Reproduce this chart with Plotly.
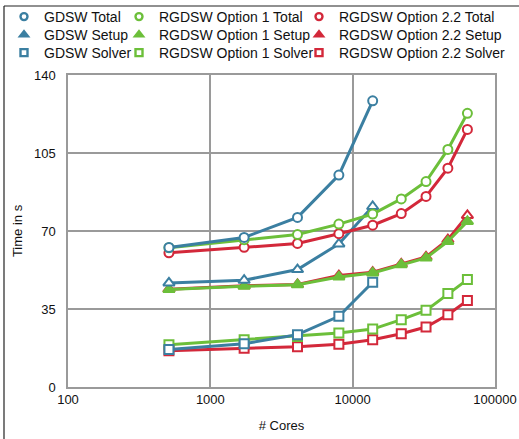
import plotly.graph_objects as go

cores_gdsw = [512, 1728, 4096, 8000, 13824]
cores_rgdsw = [512, 1728, 4096, 8000, 13824, 21952, 32768, 46656, 64000]

gdsw_total = [62.6, 67.1, 76.1, 95.1, 128.4]
gdsw_setup = [46.7, 47.9, 52.7, 64.2, 81.0]
gdsw_solver = [16.8, 19.4, 23.5, 31.7, 47.0]

opt1_total = [62.5, 66.1, 68.4, 73.1, 77.6, 84.4, 92.2, 106.6, 122.8]
opt1_setup = [43.7, 45.2, 45.9, 49.4, 51.2, 54.9, 57.9, 65.3, 74.3]
opt1_solver = [19.0, 21.2, 22.7, 24.2, 26.0, 30.2, 34.4, 41.9, 48.2]

opt22_total = [60.2, 62.7, 64.4, 68.8, 72.6, 77.8, 85.5, 98.2, 115.6]
opt22_setup = [43.9, 45.4, 46.0, 50.0, 51.5, 55.2, 58.4, 66.1, 77.0]
opt22_solver = [16.3, 17.4, 18.1, 19.2, 21.2, 23.9, 26.9, 32.4, 38.8]

BLUE = "#3b7fa1"
GREEN = "#6cbf3a"
RED = "#d3283a"

FONT = "Liberation Sans, Arial, sans-serif"

series = [
    ("GDSW Total", cores_gdsw, gdsw_total, BLUE, "circle", "white"),
    ("GDSW Setup", cores_gdsw, gdsw_setup, BLUE, "triangle-up", "white"),
    ("GDSW Solver", cores_gdsw, gdsw_solver, BLUE, "square", "white"),
    ("RGDSW Option 1 Total", cores_rgdsw, opt1_total, GREEN, "circle", "white"),
    ("RGDSW Option 1 Setup", cores_rgdsw, opt1_setup, GREEN, "triangle-up", GREEN),
    ("RGDSW Option 1 Solver", cores_rgdsw, opt1_solver, GREEN, "square", "white"),
    ("RGDSW Option 2.2 Total", cores_rgdsw, opt22_total, RED, "circle", "white"),
    ("RGDSW Option 2.2 Setup", cores_rgdsw, opt22_setup, RED, "triangle-up", "white"),
    ("RGDSW Option 2.2 Solver", cores_rgdsw, opt22_solver, RED, "square", "white"),
]

W, H = 519, 439
L, R, T, B = 68, 24, 75, 52
pw, ph = W - L - R, H - T - B


def px(xp):
    return (xp - L) / pw


def py(yp):
    return 1 - (yp - T) / ph


fig = go.Figure()

order = [8, 5, 2, 7, 4, 1, 6, 3, 0]
for idx in order:
    name, x, y, col, sym, fill = series[idx]
    fig.add_trace(go.Scatter(
        x=x, y=y, mode="lines+markers", name=name, showlegend=False,
        line=dict(color=col, width=3),
        marker=dict(symbol=sym, size=9 if sym != "triangle-up" else 10,
                    color=fill, line=dict(color=col, width=2)),
    ))

col_x = [4, 119, 299]
row_y = [17, 35, 53]
legend_layout = {}
for i, (name, x, y, col, sym, fill) in enumerate(series):
    key = "legend" if i == 0 else f"legend{i + 1}"
    c, r = divmod(i, 3)
    legend_layout[key] = dict(
        x=px(col_x[c]), y=py(row_y[r]), xanchor="left", yanchor="middle",
        bgcolor="rgba(0,0,0,0)", font=dict(family=FONT, size=14, color="#111"),
        itemsizing="trace", itemwidth=30,
    )
    fig.add_trace(go.Scatter(
        x=[None], y=[None], mode="markers", name=name, legend=key,
        marker=dict(symbol=sym, size=7,
                    color=col if sym == "triangle-up" else "white",
                    line=dict(color=col, width=2.4)),
    ))

fig.update_layout(
    width=W, height=H,
    margin=dict(l=L, r=R, t=T, b=B, autoexpand=False),
    paper_bgcolor="white", plot_bgcolor="white",
    font=dict(family=FONT, size=13, color="#111"),
    xaxis=dict(
        type="log", range=[2, 5],
        tickvals=[100, 1000, 10000, 100000],
        ticktext=["100", "1000", "10000", "100000"],
        showgrid=True, gridcolor="#9a9a9a", gridwidth=1.5,
        showline=True, linecolor="#9a9a9a", linewidth=1.5, mirror=True,
        ticks="", zeroline=False, automargin=False,
        title=dict(text="# Cores", font=dict(size=13), standoff=15),
        tickfont=dict(size=13),
    ),
    yaxis=dict(
        range=[0, 140], tickvals=[0, 35, 70, 105, 140],
        showgrid=True, gridcolor="#9a9a9a", gridwidth=1.5,
        showline=True, linecolor="#9a9a9a", linewidth=1.5, mirror=True,
        ticks="", zeroline=False, ticklabelstandoff=8, automargin=False,
        title=dict(text="Time in s", font=dict(size=13), standoff=8),
        tickfont=dict(size=13),
    ),
    shapes=[
        dict(type="line", xref="paper", yref="paper",
             x0=px(4), x1=px(4), y0=py(6), y1=py(445),
             line=dict(color="#222", width=1.2)),
        dict(type="line", xref="paper", yref="paper",
             x0=px(4), x1=px(525), y0=py(6), y1=py(6),
             line=dict(color="#222", width=1.2)),
    ],
    **legend_layout,
)

fig.write_html("out.html")
